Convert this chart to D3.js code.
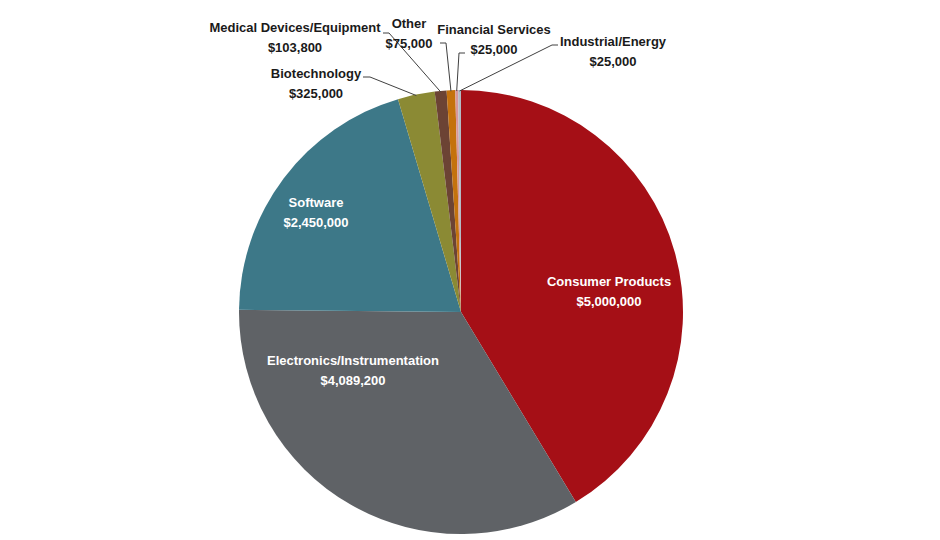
<!DOCTYPE html>
<html>
<head>
<meta charset="utf-8">
<script src="https://cdn.jsdelivr.net/npm/d3@7"></script>
<style>
  body { margin: 0; background: #fff; }
  svg text { font-family: "Liberation Sans", Arial, sans-serif; font-weight: bold; font-size: 13px; }
</style>
</head>
<body>
<div id="chart"></div>
<script>
// data
const categories = ['Consumer Products', 'Electronics/Instrumentation', 'Software', 'Biotechnology',
  'Medical Devices/Equipment', 'Other', 'Financial Services', 'Industrial/Energy'];
const amounts = [5000000, 4089200, 2450000, 325000, 103800, 75000, 25000, 25000];
const valueLabels = ['$5,000,000', '$4,089,200', '$2,450,000', '$325,000', '$103,800', '$75,000', '$25,000', '$25,000'];
const colors = ['#a50f16', '#5f6266', '#3d7888', '#8b8a34', '#6c4334', '#c4720d', '#d6989c', '#b3bac4'];

// layout
const width = 940, height = 540;
const cx = 461, cy = 312, radius = 222;
// label anchor (center of the two text lines) and whether it sits inside the slice
const labelPos = [
  { x: 609, y: 291, inside: true },
  { x: 353, y: 370, inside: true },
  { x: 316, y: 212, inside: true },
  { x: 316, y: 83, inside: false, lx: 363, ly: 77, hx: 370 },
  { x: 295, y: 37, inside: false, lx: 383, ly: 33, hx: 389 },
  { x: 409, y: 33, inside: false, lx: 440, ly: 43, hx: 446 },
  { x: 494, y: 39, inside: false, lx: 465, ly: 53, hx: 459 },
  { x: 613, y: 51, inside: false, lx: 558, ly: 45, hx: 552 }
];

const svg = d3.select('#chart').append('svg')
  .attr('width', width)
  .attr('height', height);

const g = svg.append('g').attr('transform', `translate(${cx},${cy})`);

const pie = d3.pie().sort(null).value(d => d)(amounts);
const arc = d3.arc().innerRadius(0).outerRadius(radius);
const edge = d3.arc().innerRadius(radius - 1).outerRadius(radius - 1);

g.selectAll('path.slice')
  .data(pie)
  .enter()
  .append('path')
  .attr('class', 'slice')
  .attr('d', arc)
  .attr('fill', (d, i) => colors[i]);

// leader lines for outside labels
pie.forEach((d, i) => {
  const p = labelPos[i];
  if (p.inside) return;
  const [ex, ey] = edge.centroid(d);
  svg.append('polyline')
    .attr('points', `${p.lx},${p.ly} ${p.hx},${p.ly} ${cx + ex},${cy + ey}`)
    .attr('fill', 'none')
    .attr('stroke', '#404040')
    .attr('stroke-width', 1);
});

// labels
pie.forEach((d, i) => {
  const p = labelPos[i];
  const t = svg.append('text')
    .attr('x', p.x)
    .attr('y', p.y)
    .attr('text-anchor', 'middle')
    .attr('fill', p.inside ? '#ffffff' : '#1a1a1a');
  t.append('tspan').attr('x', p.x).attr('dy', '-0.4em').text(categories[i]);
  t.append('tspan').attr('x', p.x).attr('dy', '1.55em').text(valueLabels[i]);
});
</script>
</body>
</html>
